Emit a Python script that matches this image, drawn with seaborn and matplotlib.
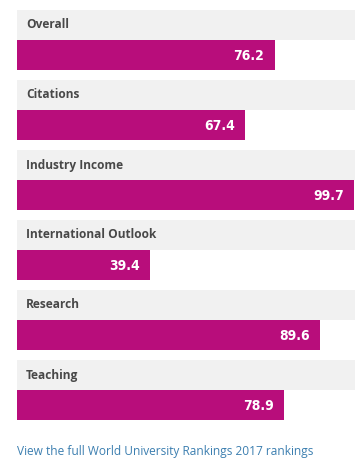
import numpy as np
import pandas as pd
import matplotlib
matplotlib.use("Agg")
import matplotlib.pyplot as plt
import seaborn as sns

categories = ["Overall", "Citations", "Industry Income", "International Outlook", "Research", "Teaching"]
scores = [76.2, 67.4, 99.7, 39.4, 89.6, 78.9]
link_text = "View the full World University Rankings 2017 rankings"

df = pd.DataFrame({"category": categories, "score": scores})

W, H = 359, 458
fig = plt.figure(figsize=(W / 100, H / 100), dpi=100)
ax = fig.add_axes([17 / W, 0, 338 / W, 1])

step = 70.0
bar_h = 30 / step
pos = np.arange(len(categories))

# grey label bands above each bar
ax.barh(pos - bar_h, 100, height=bar_h, color="#f1f1f1", align="center", zorder=1)

sns.barplot(data=df, y="category", x="score", orient="h", color="#b80d7b",
            width=bar_h, saturation=1, ax=ax, zorder=2)

for i, (cat, val) in enumerate(zip(categories, scores)):
    ax.text(2.7, i - bar_h, cat, va="center", ha="left", fontsize=8.6,
            color="#484848", fontweight="bold", family=["Open Sans", "DejaVu Sans"], zorder=3)
    ax.text(val - 3.0, i + 0.01, f"{val:.1f}", va="center", ha="right", fontsize=10,
            color="white", fontweight="bold", fontstretch="condensed",
            family=["DejaVu Sans"], zorder=3)

ax.set_xlim(0, 100)
ax.set_ylim((H - 55) / step, -55 / step)
ax.axis("off")

fig.text(17 / W, 1 - 452 / H, link_text, va="center", ha="left", fontsize=8.6,
         color="#3c7fb0", family=["Open Sans", "DejaVu Sans"])

fig.savefig("out.png", dpi=100, facecolor="white")
